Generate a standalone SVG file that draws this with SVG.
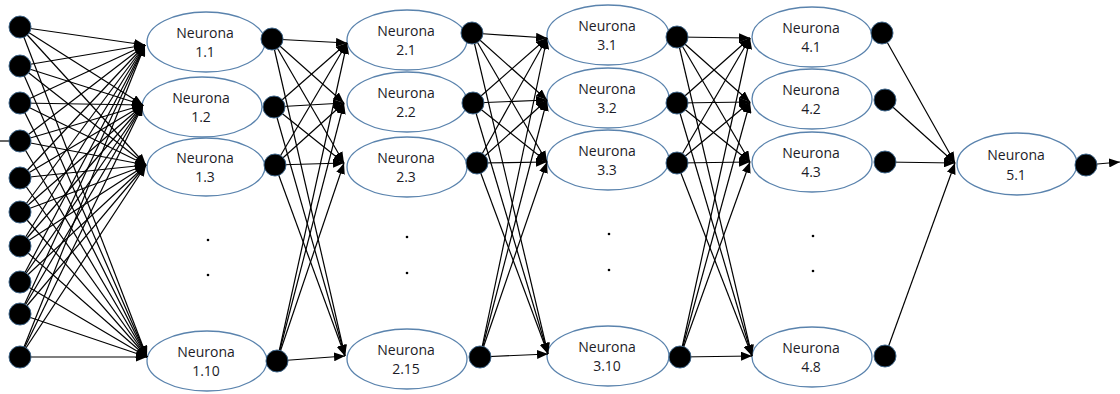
<svg xmlns="http://www.w3.org/2000/svg" width="1120" height="394" viewBox="0 0 1120 394">
<defs>
<style>
.n ellipse{fill:#fff;stroke:#5a83ad;stroke-width:1.3}
.n text{font-family:"Open Sans","DejaVu Sans",sans-serif;font-size:14px;fill:#1c1c28;text-anchor:middle}
.d circle{fill:#000;stroke:#3d6488;stroke-width:1}
.dots circle{fill:#000}
#connectors line{stroke:#000;stroke-width:1.2;marker-end:url(#ah)}
#connectors line.plain{marker-end:none}
</style>
<marker id="ah" markerUnits="userSpaceOnUse" markerWidth="11" markerHeight="9" refX="11" refY="4.5" orient="auto" viewBox="0 0 11 9">
<path d="M0,0 L11,4.5 L0,9 z" fill="#000"/>
</marker>
</defs>
<rect width="1120" height="394" fill="#fff"/>

<g id="n1_1" class="n"><ellipse cx="206" cy="42" rx="59" ry="30"/><text x="205" y="37.5">Neurona</text><text x="205" y="57">1.1</text></g>
<g id="n1_2" class="n"><ellipse cx="202" cy="107" rx="60" ry="30"/><text x="201" y="102.5">Neurona</text><text x="201" y="122">1.2</text></g>
<g id="n1_3" class="n"><ellipse cx="206" cy="167" rx="59" ry="29"/><text x="205" y="162.5">Neurona</text><text x="205" y="182">1.3</text></g>
<g id="n1_10" class="n"><ellipse cx="207" cy="361" rx="60" ry="30"/><text x="206" y="356.5">Neurona</text><text x="206" y="376">1.10</text></g>

<g id="n2_1" class="n"><ellipse cx="407" cy="40" rx="60" ry="30"/><text x="406" y="35.5">Neurona</text><text x="406" y="55">2.1</text></g>
<g id="n2_2" class="n"><ellipse cx="407" cy="102" rx="60" ry="30"/><text x="406" y="97.5">Neurona</text><text x="406" y="117">2.2</text></g>
<g id="n2_3" class="n"><ellipse cx="407" cy="167" rx="60" ry="30"/><text x="406" y="162.5">Neurona</text><text x="406" y="182">2.3</text></g>
<g id="n2_15" class="n"><ellipse cx="407" cy="359" rx="60" ry="30"/><text x="406" y="354.5">Neurona</text><text x="406" y="374">2.15</text></g>

<g id="n3_1" class="n"><ellipse cx="608" cy="35" rx="61" ry="30"/><text x="607" y="30.5">Neurona</text><text x="607" y="50">3.1</text></g>
<g id="n3_2" class="n"><ellipse cx="608" cy="98" rx="61" ry="30"/><text x="607" y="93.5">Neurona</text><text x="607" y="113">3.2</text></g>
<g id="n3_3" class="n"><ellipse cx="608" cy="160" rx="61" ry="30"/><text x="607" y="155.5">Neurona</text><text x="607" y="175">3.3</text></g>
<g id="n3_10" class="n"><ellipse cx="608" cy="356" rx="61" ry="30"/><text x="607" y="351.5">Neurona</text><text x="607" y="371">3.10</text></g>

<g id="n4_1" class="n"><ellipse cx="812" cy="37" rx="60" ry="30"/><text x="811" y="32.5">Neurona</text><text x="811" y="52">4.1</text></g>
<g id="n4_2" class="n"><ellipse cx="812" cy="99" rx="60" ry="30"/><text x="811" y="94.5">Neurona</text><text x="811" y="114">4.2</text></g>
<g id="n4_3" class="n"><ellipse cx="812" cy="162" rx="60" ry="30"/><text x="811" y="157.5">Neurona</text><text x="811" y="177">4.3</text></g>
<g id="n4_8" class="n"><ellipse cx="812" cy="357" rx="60" ry="30"/><text x="811" y="352.5">Neurona</text><text x="811" y="372">4.8</text></g>

<g id="n5_1" class="n"><ellipse cx="1017" cy="164" rx="60" ry="31"/><text x="1016" y="160">Neurona</text><text x="1016" y="180">5.1</text></g>

<g id="ellipsis" class="dots">
<circle cx="208" cy="240" r="1.3"/><circle cx="208" cy="275" r="1.3"/>
<circle cx="407" cy="237" r="1.3"/><circle cx="407" cy="273" r="1.3"/>
<circle cx="609" cy="234" r="1.3"/><circle cx="609" cy="270" r="1.3"/>
<circle cx="813" cy="236" r="1.3"/><circle cx="813" cy="271" r="1.3"/>
</g>

<g id="connectors">
<line class="plain" x1="0" y1="141" x2="20" y2="141"/>
<!-- inputs to layer 1 -->
<line x1="20" y1="27" x2="145" y2="45"/><line x1="20" y1="27" x2="143" y2="105"/><line x1="20" y1="27" x2="146" y2="165"/><line x1="20" y1="27" x2="147" y2="357"/>
<line x1="20" y1="66" x2="145" y2="45"/><line x1="20" y1="66" x2="143" y2="105"/><line x1="20" y1="66" x2="146" y2="165"/><line x1="20" y1="66" x2="147" y2="357"/>
<line x1="20" y1="103" x2="145" y2="45"/><line x1="20" y1="103" x2="143" y2="105"/><line x1="20" y1="103" x2="146" y2="165"/><line x1="20" y1="103" x2="147" y2="357"/>
<line x1="20" y1="141" x2="145" y2="45"/><line x1="20" y1="141" x2="143" y2="105"/><line x1="20" y1="141" x2="146" y2="165"/><line x1="20" y1="141" x2="147" y2="357"/>
<line x1="20" y1="178" x2="145" y2="45"/><line x1="20" y1="178" x2="143" y2="105"/><line x1="20" y1="178" x2="146" y2="165"/><line x1="20" y1="178" x2="147" y2="357"/>
<line x1="20" y1="212" x2="145" y2="45"/><line x1="20" y1="212" x2="143" y2="105"/><line x1="20" y1="212" x2="146" y2="165"/><line x1="20" y1="212" x2="147" y2="357"/>
<line x1="20" y1="246" x2="145" y2="45"/><line x1="20" y1="246" x2="143" y2="105"/><line x1="20" y1="246" x2="146" y2="165"/><line x1="20" y1="246" x2="147" y2="357"/>
<line x1="20" y1="282" x2="145" y2="45"/><line x1="20" y1="282" x2="143" y2="105"/><line x1="20" y1="282" x2="146" y2="165"/><line x1="20" y1="282" x2="147" y2="357"/>
<line x1="20" y1="314" x2="145" y2="45"/><line x1="20" y1="314" x2="143" y2="105"/><line x1="20" y1="314" x2="146" y2="165"/><line x1="20" y1="314" x2="147" y2="357"/>
<line x1="20" y1="357" x2="145" y2="45"/><line x1="20" y1="357" x2="143" y2="105"/><line x1="20" y1="357" x2="146" y2="165"/><line x1="20" y1="357" x2="147" y2="357"/>
<!-- layer 1 to layer 2 -->
<line x1="272" y1="39" x2="347" y2="43"/><line x1="272" y1="39" x2="344" y2="103"/><line x1="272" y1="39" x2="344" y2="163"/><line x1="272" y1="39" x2="345" y2="356"/>
<line x1="274" y1="107" x2="347" y2="43"/><line x1="274" y1="107" x2="344" y2="103"/><line x1="274" y1="107" x2="344" y2="163"/><line x1="274" y1="107" x2="345" y2="356"/>
<line x1="275" y1="165" x2="347" y2="43"/><line x1="275" y1="165" x2="344" y2="103"/><line x1="275" y1="165" x2="344" y2="163"/><line x1="275" y1="165" x2="345" y2="356"/>
<line x1="277" y1="361" x2="347" y2="43"/><line x1="277" y1="361" x2="344" y2="103"/><line x1="277" y1="361" x2="344" y2="163"/><line x1="277" y1="361" x2="345" y2="356"/>
<!-- layer 2 to layer 3 -->
<line x1="472" y1="33" x2="547" y2="38"/><line x1="472" y1="33" x2="547" y2="100"/><line x1="472" y1="33" x2="547" y2="162"/><line x1="472" y1="33" x2="548" y2="354"/>
<line x1="473" y1="103" x2="547" y2="38"/><line x1="473" y1="103" x2="547" y2="100"/><line x1="473" y1="103" x2="547" y2="162"/><line x1="473" y1="103" x2="548" y2="354"/>
<line x1="477" y1="163" x2="547" y2="38"/><line x1="477" y1="163" x2="547" y2="100"/><line x1="477" y1="163" x2="547" y2="162"/><line x1="477" y1="163" x2="548" y2="354"/>
<line x1="480" y1="357" x2="547" y2="38"/><line x1="480" y1="357" x2="547" y2="100"/><line x1="480" y1="357" x2="547" y2="162"/><line x1="480" y1="357" x2="548" y2="354"/>
<!-- layer 3 to layer 4 -->
<line x1="677" y1="37" x2="750" y2="38"/><line x1="677" y1="37" x2="750" y2="102"/><line x1="677" y1="37" x2="750" y2="162"/><line x1="677" y1="37" x2="752" y2="356"/>
<line x1="677" y1="103" x2="750" y2="38"/><line x1="677" y1="103" x2="750" y2="102"/><line x1="677" y1="103" x2="750" y2="162"/><line x1="677" y1="103" x2="752" y2="356"/>
<line x1="677" y1="163" x2="750" y2="38"/><line x1="677" y1="163" x2="750" y2="102"/><line x1="677" y1="163" x2="750" y2="162"/><line x1="677" y1="163" x2="752" y2="356"/>
<line x1="680" y1="357" x2="750" y2="38"/><line x1="680" y1="357" x2="750" y2="102"/><line x1="680" y1="357" x2="750" y2="162"/><line x1="680" y1="357" x2="752" y2="356"/>
<!-- layer 4 to layer 5 -->
<line x1="882" y1="33" x2="955" y2="163"/><line x1="885" y1="100" x2="955" y2="163"/><line x1="885" y1="162" x2="955" y2="163"/><line x1="885" y1="356" x2="955" y2="163"/>
<!-- output -->
<line x1="1086" y1="165" x2="1120" y2="162"/>
</g>

<g id="in1" class="d"><circle cx="20" cy="27" r="11"/></g>
<g id="in2" class="d"><circle cx="20" cy="66" r="11"/></g>
<g id="in3" class="d"><circle cx="20" cy="103" r="11"/></g>
<g id="in4" class="d"><circle cx="20" cy="141" r="11"/></g>
<g id="in5" class="d"><circle cx="20" cy="178" r="11"/></g>
<g id="in6" class="d"><circle cx="20" cy="212" r="11"/></g>
<g id="in7" class="d"><circle cx="20" cy="246" r="11"/></g>
<g id="in8" class="d"><circle cx="20" cy="282" r="11"/></g>
<g id="in9" class="d"><circle cx="20" cy="314" r="11"/></g>
<g id="in10" class="d"><circle cx="20" cy="357" r="11"/></g>

<g id="o1_1" class="d"><circle cx="272" cy="39" r="11"/></g>
<g id="o1_2" class="d"><circle cx="274" cy="107" r="11"/></g>
<g id="o1_3" class="d"><circle cx="275" cy="165" r="11"/></g>
<g id="o1_10" class="d"><circle cx="277" cy="361" r="11"/></g>

<g id="o2_1" class="d"><circle cx="472" cy="33" r="11"/></g>
<g id="o2_2" class="d"><circle cx="473" cy="103" r="11"/></g>
<g id="o2_3" class="d"><circle cx="477" cy="163" r="11"/></g>
<g id="o2_15" class="d"><circle cx="480" cy="357" r="11"/></g>

<g id="o3_1" class="d"><circle cx="677" cy="37" r="11"/></g>
<g id="o3_2" class="d"><circle cx="677" cy="103" r="11"/></g>
<g id="o3_3" class="d"><circle cx="677" cy="163" r="11"/></g>
<g id="o3_10" class="d"><circle cx="680" cy="357" r="11"/></g>

<g id="o4_1" class="d"><circle cx="882" cy="33" r="11"/></g>
<g id="o4_2" class="d"><circle cx="885" cy="100" r="11"/></g>
<g id="o4_3" class="d"><circle cx="885" cy="162" r="11"/></g>
<g id="o4_8" class="d"><circle cx="885" cy="356" r="11"/></g>

<g id="o5_1" class="d"><circle cx="1086" cy="165" r="11"/></g>
</svg>
